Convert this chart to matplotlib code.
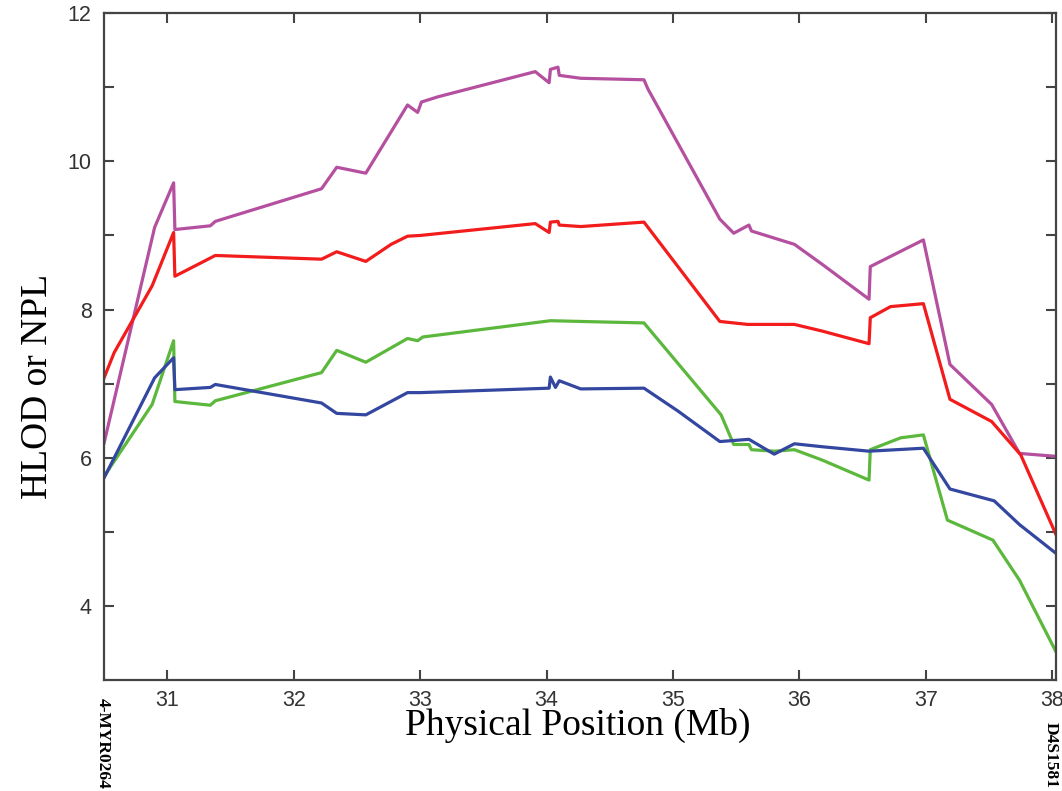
import matplotlib
matplotlib.use("Agg")
import matplotlib.pyplot as plt
import matplotlib.transforms as mtransforms

# HLOD / NPL curves along the physical position (Mb)
magenta_x = [30.5, 30.9, 31.05, 31.06, 31.34, 31.38, 32.22, 32.34, 32.57, 32.90, 32.98, 33.01,
             33.14, 33.91, 34.02, 34.03, 34.09, 34.10, 34.27, 34.77, 34.80, 35.37, 35.48, 35.60,
             35.62, 35.96, 36.18, 36.55, 36.56, 36.98, 37.19, 37.52, 37.74, 38.03]
magenta_y = [6.2, 9.11, 9.71, 9.08, 9.13, 9.19, 9.63, 9.92, 9.84, 10.76, 10.66, 10.80,
             10.87, 11.21, 11.06, 11.24, 11.27, 11.16, 11.12, 11.10, 10.98, 9.22, 9.03, 9.14,
             9.06, 8.88, 8.61, 8.14, 8.58, 8.94, 7.26, 6.72, 6.06, 6.02]

red_x = [30.5, 30.58, 30.88, 31.05, 31.06, 31.38, 32.22, 32.34, 32.57, 32.77, 32.90, 33.00,
         33.91, 34.02, 34.03, 34.09, 34.10, 34.27, 34.77, 35.37, 35.59, 35.96, 36.18, 36.55,
         36.56, 36.72, 36.98, 37.19, 37.52, 37.75, 38.03]
red_y = [7.08, 7.42, 8.32, 9.04, 8.45, 8.73, 8.68, 8.78, 8.65, 8.88, 8.99, 9.00,
         9.16, 9.04, 9.18, 9.19, 9.14, 9.12, 9.18, 7.84, 7.80, 7.80, 7.71, 7.54,
         7.89, 8.04, 8.08, 6.79, 6.49, 6.04, 4.96]

green_x = [30.5, 30.88, 31.05, 31.06, 31.34, 31.38, 32.22, 32.34, 32.57, 32.90, 32.98, 33.02,
           34.03, 34.27, 34.77, 35.38, 35.48, 35.60, 35.62, 35.80, 35.96, 36.18, 36.55, 36.56,
           36.80, 36.98, 37.17, 37.53, 37.74, 38.03]
green_y = [5.75, 6.72, 7.58, 6.76, 6.71, 6.77, 7.15, 7.45, 7.29, 7.61, 7.58, 7.63,
           7.85, 7.84, 7.82, 6.58, 6.18, 6.18, 6.11, 6.09, 6.11, 5.97, 5.70, 6.11,
           6.27, 6.31, 5.16, 4.89, 4.35, 3.38]

blue_x = [30.5, 30.9, 31.05, 31.06, 31.34, 31.38, 32.22, 32.34, 32.57, 32.90, 33.00, 34.02,
          34.03, 34.07, 34.10, 34.27, 34.77, 35.04, 35.37, 35.60, 35.80, 35.96, 36.18, 36.55,
          36.98, 37.19, 37.54, 37.74, 38.03]
blue_y = [5.73, 7.08, 7.35, 6.92, 6.95, 6.99, 6.74, 6.60, 6.58, 6.88, 6.88, 6.94,
          7.09, 6.95, 7.04, 6.93, 6.94, 6.63, 6.22, 6.25, 6.05, 6.19, 6.15, 6.09,
          6.13, 5.58, 5.42, 5.10, 4.71]

x_ticks = [31, 32, 33, 34, 35, 36, 37, 38]
y_ticks = [4, 6, 8, 10, 12]
y_minor = [5, 7, 9, 11]
# marker names under the two ends: (position, name, top of text in axes coords)
end_markers = [(30.49, "4-MYR0264", -0.026), (37.99, "D4S1581", -0.063)]

fig = plt.figure(figsize=(10.62, 7.91), dpi=100)
ax = fig.add_axes([0.098, 0.14, 0.8965, 0.8435])

ax.plot(magenta_x, magenta_y, color="#b4509f", lw=2.3)
ax.plot(red_x, red_y, color="#f21c1c", lw=2.3)
ax.plot(green_x, green_y, color="#5cb83c", lw=2.3)
ax.plot(blue_x, blue_y, color="#3447a0", lw=2.3)

ax.set_xlim(30.5, 38.03)
ax.set_ylim(3, 12)
ax.set_xticks(x_ticks)
ax.set_yticks(y_ticks)
ax.set_yticks(y_minor, minor=True)
ax.tick_params(which="both", direction="in", top=True, right=True, length=7,
               width=1.5, color="#444444")
ax.tick_params(axis="x", pad=7)
ax.tick_params(axis="y", pad=9)
for lab in ax.get_xticklabels() + ax.get_yticklabels():
    lab.set_fontfamily("Liberation Sans")
    lab.set_fontsize(15.5)
    lab.set_color("#333333")
for sp in ax.spines.values():
    sp.set_linewidth(1.6)
    sp.set_color("#444444")

ax.set_xlabel("Physical Position (Mb)", fontsize=27, family="Liberation Serif", va="top")
ax.xaxis.set_label_coords(0.497, -0.042)
ax.set_ylabel("HLOD or NPL", fontsize=27, family="Liberation Serif", va="center")
ax.yaxis.set_label_coords(-0.07, 0.44)

trans = mtransforms.blended_transform_factory(ax.transData, ax.transAxes)
for pos, name, top in end_markers:
    ax.text(pos, top, name, transform=trans, rotation=-90, ha="center", va="top",
            fontsize=12.5, fontweight="bold", family="Liberation Serif")

fig.savefig("out.png", dpi=100)
